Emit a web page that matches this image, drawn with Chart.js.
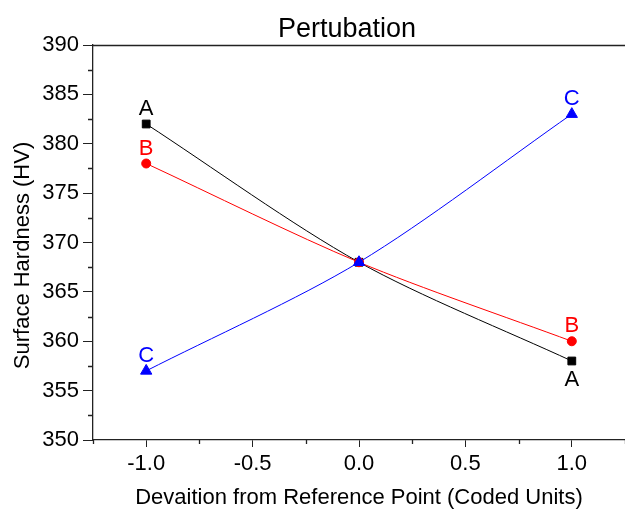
<!DOCTYPE html>
<html>
<head>
<meta charset="utf-8">
<script src="https://cdn.jsdelivr.net/npm/chart.js@4.4.0/dist/chart.umd.min.js"></script>
<style>
  body { margin: 0; background: #fff; }
  #contenedor { width: 625px; height: 513px; }
</style>
</head>
<body>
<div id="contenedor"><canvas id="grafico" width="625" height="513"></canvas></div>
<script>
// valores
var xCodificado = [-1, 0, 1];
var serieA = [382, 368, 358];
var serieB = [378, 368, 360];
var serieC = [357, 368, 383];
var nombresSeries = ['A', 'B', 'C'];
var ticksX = [-1.0, -0.5, 0.0, 0.5, 1.0];
var ticksY = [350, 355, 360, 365, 370, 375, 380, 385, 390];
var titulo = 'Pertubation';
var tituloX = 'Devaition from Reference Point (Coded Units)';
var tituloY = 'Surface Hardness (HV)';

var fuente = '"Liberation Sans", Arial, sans-serif';
var colorEje = '#222222';

function puntos(valores) {
  return xCodificado.map(function (x, i) { return { x: x, y: valores[i] }; });
}

// titulos, marcas menores, borde superior y letras de las series
const extras = {
  id: 'extras',
  afterDatasetsDraw(chart) {
    const ctx = chart.ctx;
    ctx.save();
    ctx.font = '22px ' + fuente;
    ctx.textAlign = 'center';
    chart.data.datasets.forEach(function (ds, i) {
      const meta = chart.getDatasetMeta(i);
      meta.data.forEach(function (p, j) {
        if (xCodificado[j] === 0) return; // sin letra en el centro
        ctx.fillStyle = ds.colorLetra;
        if (ds.letraAbajo[j]) {
          ctx.textBaseline = 'top';
          ctx.fillText(ds.label, p.x, p.y + 8);
        } else {
          ctx.textBaseline = 'alphabetic';
          ctx.fillText(ds.label, p.x, p.y - 9);
        }
      });
    });
    ctx.restore();
  },
  afterDraw(chart) {
    const ctx = chart.ctx, area = chart.chartArea;
    const sx = chart.scales.x, sy = chart.scales.y;
    ctx.save();
    ctx.strokeStyle = colorEje;
    ctx.lineWidth = 1.3;
    ctx.beginPath();
    ctx.moveTo(area.left, Math.round(area.top) + 0.5);
    ctx.lineTo(area.right, Math.round(area.top) + 0.5);
    // marcas menores
    for (let v = -1.25; v <= 1.25; v += 0.5) {
      const px = Math.round(sx.getPixelForValue(v)) + 0.5;
      ctx.moveTo(px, area.bottom);
      ctx.lineTo(px, area.bottom + 4);
    }
    for (let v = 352.5; v < 390; v += 5) {
      const py = Math.round(sy.getPixelForValue(v)) + 0.5;
      ctx.moveTo(area.left, py);
      ctx.lineTo(area.left - 5, py);
    }
    ctx.stroke();

    ctx.fillStyle = '#000';
    ctx.textAlign = 'center';
    ctx.textBaseline = 'alphabetic';
    ctx.font = '27px ' + fuente;
    ctx.fillText(titulo, (area.left + area.right) / 2 - 12, 37);

    ctx.translate(23, (area.top + area.bottom) / 2 + 13);
    ctx.rotate(-Math.PI / 2);
    ctx.textBaseline = 'middle';
    ctx.font = '22px ' + fuente;
    ctx.fillText(tituloY, 0, 0);
    ctx.restore();
  }
};

const ctx = document.getElementById('grafico');
window.miGrafico = new Chart(ctx, {
  type: 'line',
  data: {
    datasets: [{
      label: nombresSeries[0],
      data: puntos(serieA),
      borderColor: '#000000',
      backgroundColor: '#000000',
      colorLetra: '#000000',
      letraAbajo: [false, false, true],
      pointStyle: 'rect',
      pointRadius: 5.5,
      borderWidth: 1,
      tension: 0.3,
      order: 3
    }, {
      label: nombresSeries[1],
      data: puntos(serieB),
      borderColor: '#ff0000',
      backgroundColor: '#ff0000',
      colorLetra: '#ff0000',
      letraAbajo: [false, false, false],
      pointStyle: 'circle',
      pointRadius: 4.5,
      borderWidth: 1,
      tension: 0.3,
      order: 2
    }, {
      label: nombresSeries[2],
      data: puntos(serieC),
      borderColor: '#0000ff',
      backgroundColor: '#0000ff',
      colorLetra: '#0000ff',
      letraAbajo: [false, false, false],
      pointStyle: 'triangle',
      pointRadius: 6.5,
      borderWidth: 1,
      tension: 0.3,
      order: 1
    }]
  },
  options: {
    responsive: false,
    animation: false,
    // el marco del original sigue un poco mas alla del borde derecho
    layout: { autoPadding: false, padding: { top: 45, right: -3, left: 0, bottom: 0 } },
    plugins: {
      legend: { display: false },
      tooltip: { enabled: false }
    },
    scales: {
      x: {
        type: 'linear',
        min: -1.25,
        max: 1.25,
        afterFit: function (s) {
          s.height = 73;
          s.paddingLeft = 0;
          s.paddingRight = 0;
        },
        afterBuildTicks: function (s) { s.ticks = ticksX.map(function (v) { return { value: v }; }); },
        ticks: {
          color: '#000',
          font: { family: fuente, size: 22 },
          padding: 4,
          maxRotation: 0,
          callback: function (v) { return v.toFixed(1); }
        },
        grid: { drawOnChartArea: false, tickLength: 7, color: colorEje },
        border: { color: colorEje, width: 1.3 },
        title: {
          display: true,
          text: tituloX,
          color: '#000',
          font: { family: fuente, size: 22 },
          padding: { top: 0, bottom: 2 }
        }
      },
      y: {
        min: 350,
        max: 390,
        afterFit: function (s) {
          s.width = 93;
          s.paddingTop = 0;
          s.paddingBottom = 0;
        },
        afterBuildTicks: function (s) { s.ticks = ticksY.map(function (v) { return { value: v }; }); },
        ticks: {
          color: '#000',
          font: { family: fuente, size: 22 },
          padding: 4
        },
        grid: { drawOnChartArea: false, tickLength: 10, color: colorEje },
        border: { color: colorEje, width: 1.3 }
      }
    }
  },
  plugins: [extras]
});
</script>
</body>
</html>
